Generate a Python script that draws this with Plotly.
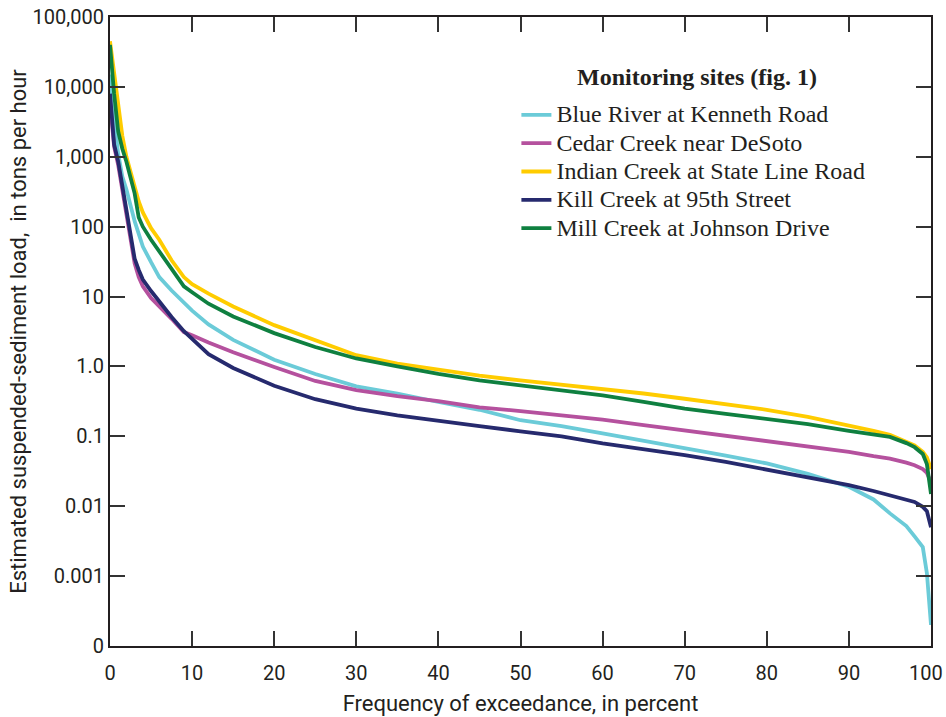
import plotly.graph_objects as go

pct = [0, 0.2, 0.5, 1, 1.5, 2, 3, 3.5, 4, 5, 6, 7.5, 9, 10, 12, 15, 20, 25, 30, 35,
       40, 45, 50, 55, 60, 65, 70, 75, 80, 85, 90, 93, 95, 97, 98, 99, 99.5, 100]

blue_river = [15000, 6000, 3500, 1100, 520, 340, 120, 75, 52, 31, 19, 12.2, 8, 6.3, 4.0, 2.4, 1.25, 0.78, 0.52, 0.41,
              0.31, 0.24, 0.17, 0.14, 0.11, 0.087, 0.068, 0.053, 0.041, 0.029, 0.019, 0.0125, 0.0079, 0.0052, 0.0037, 0.0026, 0.0011, 0.0002]
cedar_creek = [6000, 3300, 1400, 760, 340, 170, 30, 19, 14, 9.5, 7.3, 4.8, 3.1, 2.8, 2.2, 1.6, 0.98, 0.62, 0.46, 0.375,
               0.32, 0.26, 0.23, 0.2, 0.173, 0.145, 0.122, 0.102, 0.087, 0.072, 0.06, 0.052, 0.048, 0.042, 0.0385, 0.034, 0.03, 0.022]
indian_creek = [45000, 30000, 13000, 5000, 2000, 1000, 380, 230, 160, 95, 65, 33, 19, 15, 11, 7.2, 3.9, 2.4, 1.45, 1.1,
                0.89, 0.74, 0.63, 0.55, 0.48, 0.41, 0.345, 0.29, 0.24, 0.19, 0.144, 0.12, 0.105, 0.085, 0.074, 0.06, 0.05, 0.034]
kill_creek = [8000, 4500, 1500, 850, 380, 190, 35, 24, 17.5, 12, 8.5, 5.1, 3.2, 2.5, 1.5, 0.95, 0.53, 0.34, 0.25, 0.2,
              0.17, 0.14, 0.118, 0.1, 0.079, 0.065, 0.054, 0.043, 0.033, 0.026, 0.02, 0.0165, 0.0144, 0.0125, 0.0115, 0.0098, 0.0085, 0.005]
mill_creek = [40000, 20000, 8000, 2300, 1300, 850, 300, 135, 100, 65, 44, 24, 14, 11.5, 7.9, 5.2, 3.0, 1.9, 1.3, 1.0,
              0.78, 0.63, 0.54, 0.46, 0.385, 0.31, 0.25, 0.21, 0.18, 0.15, 0.12, 0.105, 0.098, 0.08, 0.07, 0.056, 0.04, 0.015]

names = ["Blue River at Kenneth Road", "Cedar Creek near DeSoto", "Indian Creek at State Line Road",
         "Kill Creek at 95th Street", "Mill Creek at Johnson Drive"]
series = [blue_river, cedar_creek, indian_creek, kill_creek, mill_creek]
colors = ["#6BCBD8", "#B5519E", "#FFCC00", "#262A6E", "#0F8040"]

tick_vals = [1e5, 1e4, 1e3, 1e2, 1e1, 1, 0.1, 0.01, 0.001, 0.0001]
tick_text = ["100,000", "10,000", "1,000", "100", "10", "1.0", "0.1", "0.01", "0.001", "0"]
x_ticks = [0, 10, 20, 30, 40, 50, 60, 70, 80, 90, 100]
x_tick_text = ["0", "10", "20", "30", "40", "50", "60", "70", "80", "90", ""]
last_x_label = "100"

fig = go.Figure()
for n, s, c in zip(names, series, colors):
    fig.add_trace(go.Scatter(x=pct, y=s, mode="lines",
                             name='<span style="font-size:24px">' + n + '</span>',
                             line=dict(color=c, width=3.8)))

sans = "Roboto, Arial, sans-serif"
serif = "Liberation Serif, Times New Roman, serif"
ink = "#231F20"
tick_font = dict(family=sans, size=20, color=ink)

fig.add_annotation(
    text="<b>Monitoring sites (fig. 1)</b>", xref="paper", yref="paper",
    x=0.715, y=0.905, xanchor="center", yanchor="middle", showarrow=False,
    font=dict(family=serif, size=24, color=ink),
)
# last x tick label, nudged so it stays inside the page like the reference
fig.add_annotation(
    text=last_x_label, xref="paper", yref="paper",
    x=1.0155, y=-0.0425, xanchor="right", yanchor="middle", showarrow=False,
    font=tick_font, borderpad=0,
)

fig.update_layout(
    width=946, height=717,
    margin=dict(l=110, r=15, t=17, b=71),
    paper_bgcolor="white", plot_bgcolor="white",
    font=tick_font,
    legend=dict(
        x=0.495, y=0.875, xanchor="left", yanchor="top",
        font=dict(family=serif, size=19.5, color=ink),
        bgcolor="rgba(0,0,0,0)", tracegroupgap=0,
    ),
    xaxis=dict(
        range=[0, 100], tickvals=x_ticks, ticktext=x_tick_text, ticks="inside", ticklen=15, tickwidth=1.5,
        tickcolor="#333", showline=True, linecolor=ink, linewidth=2, mirror="ticks",
        showgrid=False, zeroline=False, tickfont=tick_font, automargin=False,
        ticklabelstandoff=8,
        title=dict(text="Frequency of exceedance, in percent",
                   font=dict(family=sans, size=22, color=ink), standoff=12),
    ),
    yaxis=dict(
        type="log", range=[-4, 5], tickvals=tick_vals, ticktext=tick_text,
        ticks="inside", ticklen=15, tickwidth=1.5, tickcolor="#333",
        showline=True, linecolor=ink, linewidth=2, mirror="ticks",
        showgrid=False, zeroline=False, tickfont=tick_font, automargin=False,
        title=dict(text="Estimated suspended-sediment load,  in tons per hour",
                   font=dict(family=sans, size=22, color=ink), standoff=0),
    ),
)

fig.write_html("out.html")
